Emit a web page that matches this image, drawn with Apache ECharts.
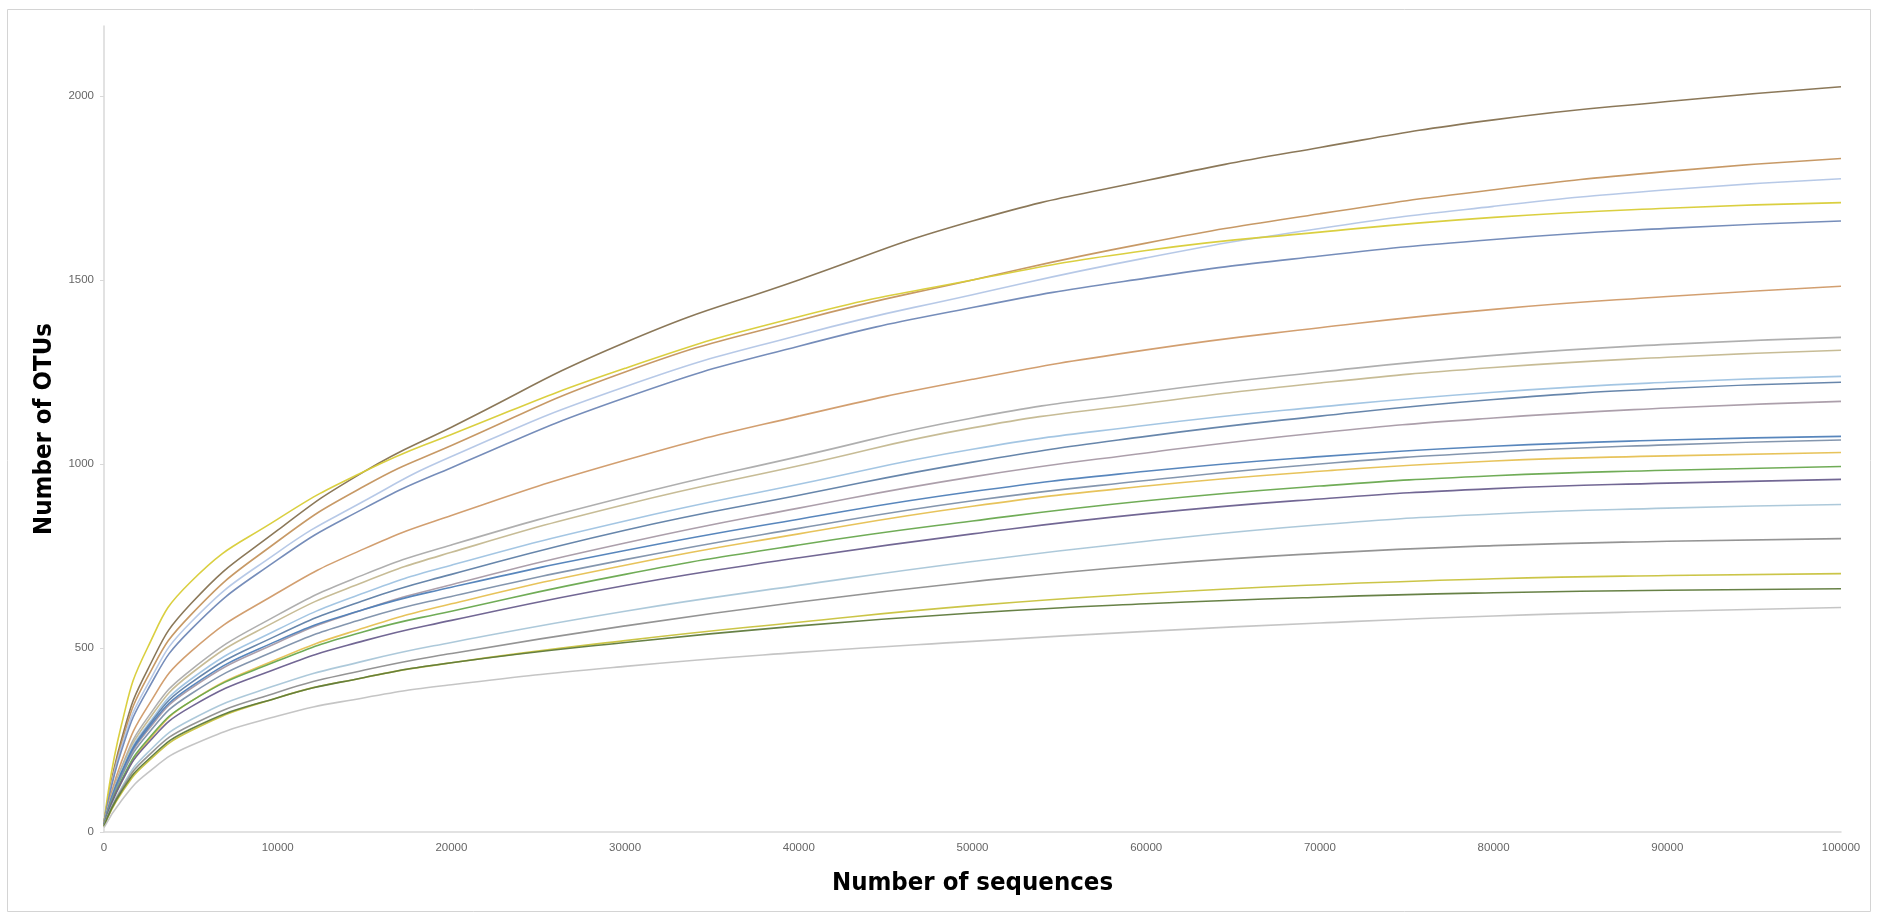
<!DOCTYPE html>
<html>
<head>
<meta charset="utf-8">
<title>Rarefaction curves</title>
<script src="https://cdn.jsdelivr.net/npm/echarts@6/dist/echarts.min.js"></script>
<style>
  html, body { margin: 0; padding: 0; background: #ffffff; }
  #chart { width: 1877px; height: 914px; }
</style>
</head>
<body>
<div id="chart"></div>
<script>
// Sequencing depth at which each sample's OTU count is recorded
const depths = [0, 1000, 2500, 5000, 10000, 15000, 20000, 30000, 40000, 50000, 60000, 70000, 80000, 90000, 100000];

// OTU counts per sample along the depths above
const sampleA = [25, 250, 440, 620, 820, 980, 1100, 1330, 1500, 1660, 1770, 1860, 1935, 1985, 2025];
const sampleB = [25, 240, 420, 590, 790, 940, 1050, 1250, 1390, 1500, 1600, 1680, 1745, 1795, 1830];
const sampleC = [25, 230, 400, 570, 760, 900, 1020, 1210, 1350, 1460, 1560, 1640, 1700, 1745, 1775];
const sampleD = [25, 290, 500, 680, 850, 980, 1080, 1260, 1400, 1500, 1580, 1630, 1670, 1695, 1710];
const sampleF = [25, 220, 385, 550, 740, 880, 990, 1180, 1320, 1425, 1505, 1565, 1610, 1640, 1660];
const sampleG = [22, 190, 340, 490, 650, 770, 860, 1010, 1130, 1230, 1310, 1370, 1420, 1455, 1483];
const sampleH = [20, 175, 310, 440, 590, 700, 780, 910, 1020, 1125, 1195, 1250, 1295, 1325, 1344];
const sampleI = [20, 170, 300, 430, 575, 680, 760, 890, 995, 1098, 1165, 1220, 1262, 1290, 1309];
const sampleJ = [20, 165, 290, 415, 550, 650, 725, 845, 945, 1040, 1105, 1155, 1195, 1222, 1238];
const sampleK = [20, 160, 285, 405, 535, 630, 700, 820, 915, 1005, 1075, 1130, 1175, 1205, 1222];
const sampleL = [20, 155, 275, 390, 515, 605, 672, 785, 880, 965, 1030, 1085, 1125, 1152, 1170];
const sampleM = [20, 160, 280, 395, 520, 605, 665, 765, 850, 925, 980, 1020, 1048, 1065, 1075];
const sampleN = [20, 150, 265, 375, 495, 580, 640, 740, 825, 900, 955, 1000, 1032, 1052, 1065];
const sampleO = [18, 135, 245, 355, 470, 555, 620, 725, 810, 885, 940, 980, 1008, 1022, 1031];
const sampleP = [18, 140, 250, 355, 465, 545, 600, 700, 780, 845, 900, 940, 968, 983, 993];
const sampleQ = [18, 135, 240, 340, 445, 520, 575, 670, 745, 810, 865, 905, 933, 948, 958];
const sampleR = [16, 120, 215, 305, 400, 465, 515, 600, 670, 735, 790, 835, 864, 880, 890];
const sampleS = [16, 115, 205, 290, 380, 440, 485, 560, 625, 680, 725, 757, 778, 790, 797];
const sampleT = [15, 105, 190, 275, 365, 420, 460, 520, 570, 615, 648, 672, 688, 697, 702];
const sampleU = [15, 110, 195, 280, 365, 420, 460, 515, 560, 595, 620, 638, 650, 657, 661];
const sampleV = [12, 85, 160, 235, 315, 365, 400, 450, 488, 518, 545, 568, 587, 600, 610];

const samples = [
  { name: 'A', values: sampleA, color: '#857150' },
  { name: 'B', values: sampleB, color: '#c4935e' },
  { name: 'C', values: sampleC, color: '#b3c6e6' },
  { name: 'D', values: sampleD, color: '#d8cc36' },
  { name: 'F', values: sampleF, color: '#6f87b6' },
  { name: 'G', values: sampleG, color: '#d09a68' },
  { name: 'H', values: sampleH, color: '#ababab' },
  { name: 'I', values: sampleI, color: '#c4b890' },
  { name: 'J', values: sampleJ, color: '#9fc3e2' },
  { name: 'K', values: sampleK, color: '#5f7fa6' },
  { name: 'L', values: sampleL, color: '#a89aa6' },
  { name: 'M', values: sampleM, color: '#4f7fb8' },
  { name: 'N', values: sampleN, color: '#7d90aa' },
  { name: 'O', values: sampleO, color: '#e6c052' },
  { name: 'P', values: sampleP, color: '#68a84e' },
  { name: 'Q', values: sampleQ, color: '#6a5f8e' },
  { name: 'R', values: sampleR, color: '#a9c6d8' },
  { name: 'S', values: sampleS, color: '#8e8e8e' },
  { name: 'T', values: sampleT, color: '#c8c23e' },
  { name: 'U', values: sampleU, color: '#5f7a3c' },
  { name: 'V', values: sampleV, color: '#c2c2c2' }
];

const xTicks = { min: 0, max: 100000, step: 10000 };
const yTicks = { min: 0, max: 2190, step: 500 };

const titleFont = "'Liberation Sans Narrow', 'DejaVu Sans Condensed', 'Liberation Sans', sans-serif";
const tickFont = "'Liberation Sans', Arial, sans-serif";

const chart = echarts.init(document.getElementById('chart'), null, { renderer: 'canvas' });

const series = samples.map(s => ({
  name: s.name,
  type: 'line',
  data: depths.map((d, i) => [d, s.values[i]]),
  smooth: 0.5,
  showSymbol: false,
  symbol: 'none',
  lineStyle: { width: 1.6, color: s.color, opacity: 0.95 },
  emphasis: { disabled: true },
  z: 3
}));

chart.setOption({
  animation: false,
  backgroundColor: '#ffffff',
  graphic: [{
    type: 'rect',
    shape: { x: 7.5, y: 9.5, width: 1863, height: 902 },
    style: { fill: 'none', stroke: '#d4d4d4', lineWidth: 1 },
    silent: true
  }],
  grid: { left: 104, right: 36, top: 26, bottom: 82, containLabel: false },
  xAxis: {
    type: 'value',
    min: xTicks.min,
    max: xTicks.max,
    interval: xTicks.step,
    name: 'Number of sequences',
    nameLocation: 'middle',
    nameGap: 38,
    nameTextStyle: { fontFamily: titleFont, fontWeight: 'bold', fontSize: 25.5, color: '#000000' },
    axisLine: { show: true, lineStyle: { color: '#d9d9d9', width: 1.5 } },
    axisTick: { show: false },
    splitLine: { show: false },
    axisLabel: {
      margin: 10,
      formatter: v => String(v),
      fontFamily: tickFont, fontSize: 11.5, color: '#666666'
    }
  },
  yAxis: {
    type: 'value',
    min: yTicks.min,
    max: yTicks.max,
    interval: yTicks.step,
    name: 'Number of OTUs',
    nameLocation: 'middle',
    nameGap: 46,
    nameTextStyle: { fontFamily: titleFont, fontWeight: 'bold', fontSize: 25.5, color: '#000000', padding: [0, 0, 0, 0] },
    axisLine: { show: true, lineStyle: { color: '#d9d9d9', width: 1.5 } },
    axisTick: { show: true, length: 4, lineStyle: { color: '#d9d9d9' } },
    splitLine: { show: false },
    axisLabel: {
      margin: 10,
      showMaxLabel: false,
      formatter: v => String(v),
      fontFamily: tickFont, fontSize: 11.5, color: '#666666'
    }
  },
  series: series
});
</script>
</body>
</html>
